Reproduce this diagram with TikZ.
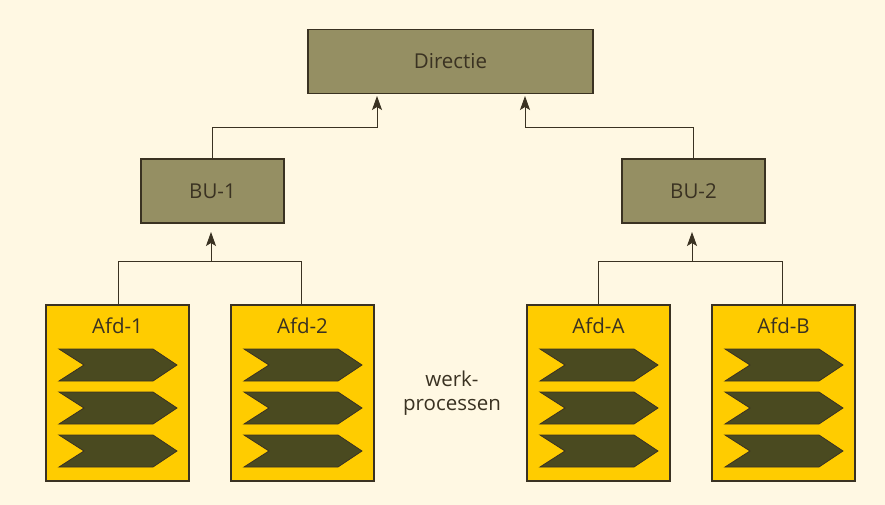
\documentclass[tikz,border=0pt]{standalone}
\usepackage{fontspec}
\setmainfont{Open Sans}
\usetikzlibrary{arrows.meta}
\definecolor{bgc}{HTML}{FFF8E3}
\definecolor{olivebox}{HTML}{958F63}
\definecolor{afdyel}{HTML}{FFCC00}
\definecolor{chev}{HTML}{4A4A20}
\definecolor{edge}{HTML}{3A3222}
\tikzset{
  lbl/.style={font=\fontsize{20.5}{24}\selectfont, text=edge},
  mgmt/.style={lbl, draw=edge, line width=1.2pt, fill=olivebox, minimum width=#1, minimum height=64pt, inner sep=0pt},
  afd/.style={draw=edge, line width=1.2pt, fill=afdyel, minimum width=143pt, minimum height=176pt, inner sep=0pt},
  conn/.style={draw=edge, line width=1pt},
  arr/.style={conn, -{Stealth[length=14pt,width=10pt,inset=3pt]}},
  chevron/.style={fill=chev, draw=edge, line width=0.8pt}
}
\newcommand{\chevronat}[2]{% #1 = left x, #2 = top y
  \filldraw[chevron] (#1,#2) -- ++(94,0) -- ++(24,16) -- ++(-24,16) -- ++(-94,0) -- ++(25,-16) -- cycle;
}
\begin{document}
\begin{tikzpicture}[x=1pt,y=-1pt]
\fill[bgc] (0,0) rectangle (885,505);
\useasboundingbox (0,0) rectangle (885,505);

\node[mgmt=285pt] (dir) at (450.5,61.5) {Directie};
\node[mgmt=143pt] (bu1) at (212.5,191) {BU-1};
\node[mgmt=143pt] (bu2) at (693.5,191) {BU-2};

\node[afd] (a1) at (117.5,393) {};
\node[afd] (a2) at (302.5,393) {};
\node[afd] (aA) at (598.5,393) {};
\node[afd] (aB) at (783.5,393) {};

\node[lbl] (t1) at (117.5,326) {Afd-1};
\node[lbl] (t2) at (302.5,326) {Afd-2};
\node[lbl] (tA) at (598.5,326) {Afd-A};
\node[lbl] (tB) at (783.5,326) {Afd-B};

\foreach \cx in {117.5,302.5,598.5,783.5}{
  \chevronat{\cx-58.5}{349}
  \chevronat{\cx-58.5}{392}
  \chevronat{\cx-58.5}{435}
}

\node[lbl, align=center] (wp) at (452,393) {werk-\\processen};

% connectors to Directie
\coordinate (d1) at (377,96);
\coordinate (d2) at (525,96);
\draw[arr] (bu1.north) |- (377,128) -- (d1);
\draw[arr] (bu2.north) |- (525,128) -- (d2);

% connectors to BU-1 / BU-2
\coordinate (b1) at (211,232);
\coordinate (b2) at (692,232);
\draw[conn] (a1.north -| 118,0) |- (301,261) -- (a2.north -| 301,0);
\draw[arr] (211,261) -- (b1);
\draw[conn] (aA.north -| 598,0) |- (782,261) -- (aB.north -| 782,0);
\draw[arr] (692,261) -- (b2);
\end{tikzpicture}
\end{document}
